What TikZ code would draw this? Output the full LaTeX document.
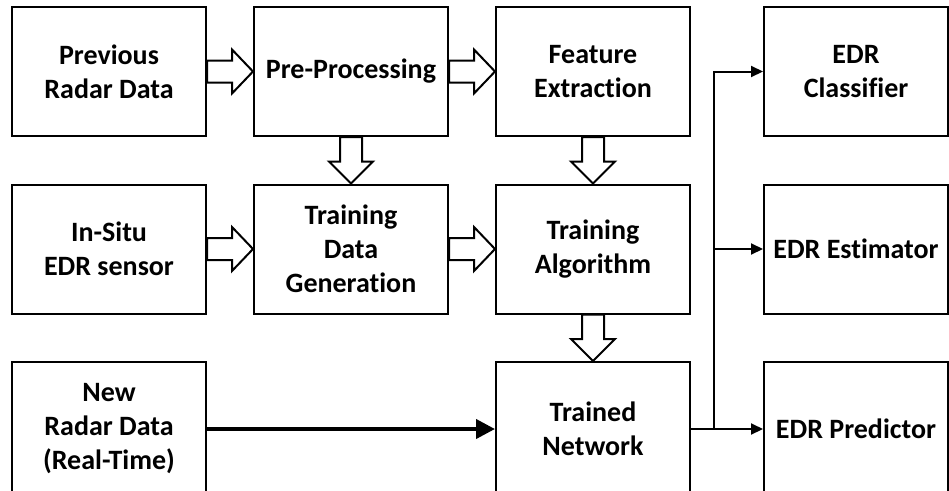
\documentclass[tikz,border=0pt]{standalone}
\usepackage{fontspec}
\setmainfont{Carlito}[Ligatures=NoCommon, RawFeature={-liga;-clig;-calt;-dlig}]
\usetikzlibrary{arrows.meta,calc}

% keeps t and i apart (Carlito joins them otherwise)
\newcommand{\nolig}{\kern0pt\relax}

\tikzset{
  box/.style={draw, line width=2pt, minimum width=194pt, minimum height=129pt,
    inner sep=0pt, align=center, font=\fontsize{28}{34}\selectfont\bfseries},
  lowbox/.style={box, minimum height=134pt},
  outbox/.style={box, minimum width=184pt},
  blk/.style={draw, line width=2pt, fill=white, line join=miter},
  conn/.style={draw, line width=2pt, -{Triangle[length=12pt,width=11pt]}},
  thickconn/.style={draw, line width=4pt, -{Triangle[length=19pt,width=19pt]}}
}

% hollow block arrow between two boxes, horizontal and vertical
\newcommand{\hollowH}[2]{%
  \path[blk] let \p1=(#1.east), \p2=(#2.west) in
    (\x1,\y1+11pt) -- (\x2-21pt,\y1+11pt) -- (\x2-21pt,\y1+22pt) -- (\x2,\y1)
    -- (\x2-21pt,\y1-22pt) -- (\x2-21pt,\y1-11pt) -- (\x1,\y1-11pt) -- cycle;}
\newcommand{\hollowV}[2]{%
  \path[blk] let \p1=(#1.south), \p2=(#2.north) in
    (\x1-11pt,\y1) -- (\x1-11pt,\y2+22pt) -- (\x1-22pt,\y2+22pt) -- (\x1,\y2)
    -- (\x1+22pt,\y2+22pt) -- (\x1+11pt,\y2+22pt) -- (\x1+11pt,\y1) -- cycle;}

\begin{document}
\begin{tikzpicture}[x=1pt,y=-1pt]
\useasboundingbox (0,0) rectangle (949,490);
\clip (0,0) rectangle (949,490);

% input column
\node[box] (prev) at (109,71.5) {Previous\\Radar Data};
\node[box] (insitu) at (109,249) {In-Situ\\EDR sensor};
\node[lowbox] (new) at (109,429) {New\\Radar Data\\(Real-Time)};

% processing column
\node[box] (pre) at (351,71.5) {Pre-Processing};
\node[box] (tdg) at (351,249) {Training\\Data\\Generat\nolig ion};

% learning column
\node[box] (feat) at (593,71.5) {Feature\\Extract\nolig ion};
\node[box] (talg) at (593,249) {Training\\Algorithm};
\node[lowbox] (tnet) at (593,429) {Trained\\Network};

% outputs
\node[outbox] (cls) at (856,71.5) {EDR\\Classifier};
\node[outbox] (est) at (856,249) {EDR Est\nolig imator};
\node[outbox, lowbox, minimum width=184pt] (pred) at (856,429) {EDR Predictor};

% data flow
\hollowH{prev}{pre}
\hollowH{pre}{feat}
\hollowH{insitu}{tdg}
\hollowH{tdg}{talg}
\hollowV{pre}{tdg}
\hollowV{feat}{talg}
\hollowV{talg}{tnet}

\draw[thickconn] (new.east) -- (tnet.west);

\coordinate (fork) at ($(tnet.east)+(23,0)$);
\draw[conn] (tnet.east) -- (pred.west);
\draw[conn] (fork) |- (cls.west);
\draw[conn] (fork |- est.west) -- (est.west);
\end{tikzpicture}
\end{document}
